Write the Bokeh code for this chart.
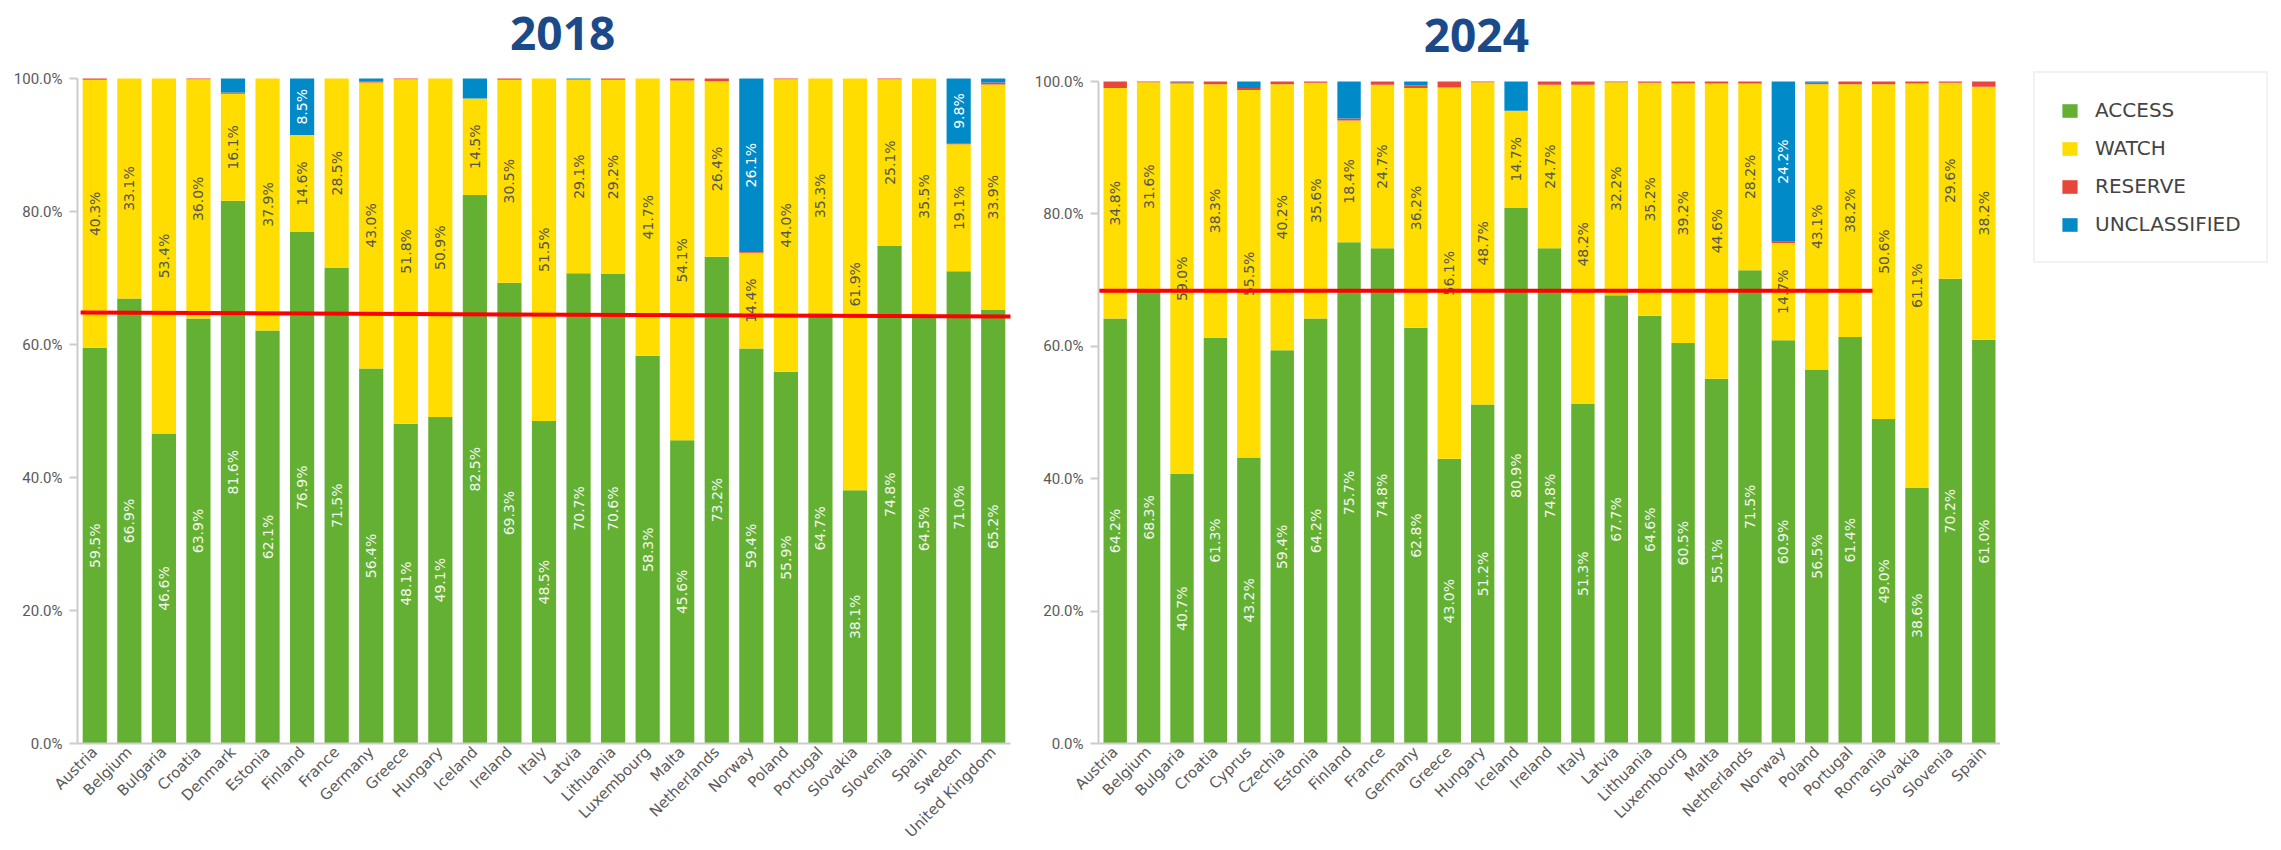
import math
from bokeh.plotting import figure
from bokeh.models import (ColumnDataSource, FactorRange, Range1d, FixedTicker,
                          PrintfTickFormatter, Label, Legend, LegendItem)
from bokeh.layouts import row
from bokeh.embed import file_html
from bokeh.resources import INLINE
from bokeh.core.properties import value

# ---------------- data ----------------
countries_2018 = ["Austria", "Belgium", "Bulgaria", "Croatia", "Denmark", "Estonia", "Finland",
                  "France", "Germany", "Greece", "Hungary", "Iceland", "Ireland", "Italy", "Latvia",
                  "Lithuania", "Luxembourg", "Malta", "Netherlands", "Norway", "Poland", "Portugal",
                  "Slovakia", "Slovenia", "Spain", "Sweden", "United Kingdom"]
access_2018 = [59.5, 66.9, 46.6, 63.9, 81.6, 62.1, 76.9, 71.5, 56.4, 48.1, 49.1, 82.5, 69.3, 48.5,
               70.7, 70.6, 58.3, 45.6, 73.2, 59.4, 55.9, 64.7, 38.1, 74.8, 64.5, 71.0, 65.2]
watch_2018 = [40.3, 33.1, 53.4, 36.0, 16.1, 37.9, 14.6, 28.5, 43.0, 51.8, 50.9, 14.5, 30.5, 51.5,
              29.1, 29.2, 41.7, 54.1, 26.4, 14.4, 44.0, 35.3, 61.9, 25.1, 35.5, 19.1, 33.9]
reserve_2018 = [0.2, 0.0, 0.0, 0.1, 0.2, 0.0, 0.0, 0.0, 0.2, 0.1, 0.0, 0.0, 0.2, 0.0,
                0.1, 0.2, 0.0, 0.3, 0.4, 0.1, 0.1, 0.0, 0.0, 0.1, 0.0, 0.1, 0.3]
unclassified_2018 = [0.0, 0.0, 0.0, 0.0, 2.1, 0.0, 8.5, 0.0, 0.4, 0.0, 0.0, 3.0, 0.0, 0.0,
                     0.1, 0.0, 0.0, 0.0, 0.0, 26.1, 0.0, 0.0, 0.0, 0.0, 0.0, 9.8, 0.6]

countries_2024 = ["Austria", "Belgium", "Bulgaria", "Croatia", "Cyprus", "Czechia", "Estonia",
                  "Finland", "France", "Germany", "Greece", "Hungary", "Iceland", "Ireland", "Italy",
                  "Latvia", "Lithuania", "Luxembourg", "Malta", "Netherlands", "Norway", "Poland",
                  "Portugal", "Romania", "Slovakia", "Slovenia", "Spain"]
access_2024 = [64.2, 68.3, 40.7, 61.3, 43.2, 59.4, 64.2, 75.7, 74.8, 62.8, 43.0, 51.2, 80.9, 74.8,
               51.3, 67.7, 64.6, 60.5, 55.1, 71.5, 60.9, 56.5, 61.4, 49.0, 38.6, 70.2, 61.0]
watch_2024 = [34.8, 31.6, 59.0, 38.3, 55.5, 40.2, 35.6, 18.4, 24.7, 36.2, 56.1, 48.7, 14.7, 24.7,
              48.2, 32.2, 35.2, 39.2, 44.6, 28.2, 14.7, 43.1, 38.2, 50.6, 61.1, 29.6, 38.2]
reserve_2024 = [1.0, 0.1, 0.2, 0.4, 0.3, 0.4, 0.2, 0.3, 0.5, 0.4, 0.9, 0.1, 0.0, 0.5,
                0.5, 0.1, 0.2, 0.3, 0.3, 0.3, 0.2, 0.2, 0.4, 0.4, 0.3, 0.2, 0.8]
unclassified_2024 = [0.0, 0.0, 0.1, 0.0, 1.0, 0.0, 0.0, 5.6, 0.0, 0.6, 0.0, 0.0, 4.4, 0.0,
                     0.0, 0.0, 0.0, 0.0, 0.0, 0.0, 24.2, 0.2, 0.0, 0.0, 0.0, 0.0, 0.0]

series_names = ["ACCESS", "WATCH", "RESERVE", "UNCLASSIFIED"]
series_colors = ["#64B032", "#FFDD00", "#E8463A", "#008AC8"]
label_colors = ["#F2F7EE", "#555555", "#FFFFFF", "#FFFFFF"]

y_ticks = [0, 20, 40, 60, 80, 100]
target_2018 = [64.8, 64.2]   # red reference line (start, end)
target_2024 = [68.4, 68.4]

TITLE_COLOR = "#1A4A8A"
AXIS_COLOR = "#CCCCCC"
TICK_TEXT = "#5A5A5A"
H = 850
B_BOTTOM = 107


def make_chart(countries, values, title, width, b_left, b_right, y_top,
               title_x, title_y, target, line_x):
    p = figure(x_range=FactorRange(*countries, range_padding=0), y_range=Range1d(0, y_top),
               width=width, height=H,
               min_border_left=b_left, min_border_top=0, min_border_right=b_right,
               min_border_bottom=B_BOTTOM, output_backend="svg", toolbar_location=None, tools="")
    data = {"x": countries}
    for n, v in zip(series_names, values):
        data[n] = v
    src = ColumnDataSource(data)
    rs = p.vbar_stack(series_names, x="x", width=0.7, color=series_colors,
                      line_color=None, source=src)

    lx, ly, lt, lc = [], [], [], []
    for i, c in enumerate(countries):
        bottom = 0.0
        for k in range(4):
            v = values[k][i]
            if v >= 8:
                lx.append(c)
                ly.append(bottom + v / 2)
                lt.append(f"{v:.1f}%")
                lc.append(label_colors[k])
            bottom += v
    lsrc = ColumnDataSource(dict(x=lx, y=ly, text=lt, color=lc))
    p.text(x="x", y="y", text="text", angle=math.pi / 2, text_align="center",
           text_baseline="middle", text_color="color", text_font=value("DejaVu Sans"),
           text_font_size=value("14px"), source=lsrc)

    p.segment(x0=[line_x[0]], y0=[target[0]], x1=[line_x[1]], y1=[target[1]],
              line_color="#FF0000", line_width=4)

    p.add_layout(Label(x=title_x, y=title_y, text=title, text_align="center",
                       text_baseline="alphabetic", text_font="Open Sans",
                       text_font_size="46px", text_font_style="bold", text_color=TITLE_COLOR))

    p.xgrid.visible = False
    p.ygrid.visible = False
    p.outline_line_color = None
    p.background_fill_color = "white"
    p.border_fill_color = "white"

    p.yaxis.bounds = (0, 100)
    p.yaxis.ticker = FixedTicker(ticks=y_ticks)
    p.yaxis.formatter = PrintfTickFormatter(format="%.1f%%")
    p.yaxis.axis_line_color = AXIS_COLOR
    p.yaxis.axis_line_width = 2
    p.yaxis.major_tick_line_color = AXIS_COLOR
    p.yaxis.major_tick_line_width = 2
    p.yaxis.major_tick_out = 8
    p.yaxis.major_tick_in = 0
    p.yaxis.minor_tick_line_color = None
    p.yaxis.major_label_standoff = 7
    p.yaxis.major_label_text_font = "Roboto"
    p.yaxis.major_label_text_font_size = "15px"
    p.yaxis.major_label_text_color = TICK_TEXT

    p.xaxis.major_label_orientation = math.pi / 4
    p.xaxis.axis_line_color = AXIS_COLOR
    p.xaxis.axis_line_width = 2
    p.xaxis.major_tick_line_color = None
    p.xaxis.major_tick_out = 0
    p.xaxis.major_tick_in = 0
    p.xaxis.major_label_standoff = 6
    p.xaxis.major_label_text_font = "DejaVu Sans"
    p.xaxis.major_label_text_font_size = "15px"
    p.xaxis.major_label_text_color = TICK_TEXT
    return p, rs


p1, rs1 = make_chart(countries_2018,
                     [access_2018, watch_2018, reserve_2018, unclassified_2018],
                     "2018", 1030, 77, 20, 743 / 6.65, 14.04, 106.7, target_2018, [0.09, 27.35])
p2, rs2 = make_chart(countries_2024,
                     [access_2024, watch_2024, reserve_2024, unclassified_2024],
                     "2024", 970, 68, 0, 743 / 6.62, 11.31, 107.0, target_2024, [0.0, 23.17])

# legend panel (same top/bottom borders as the charts so frames line up)
p3 = figure(width=273, height=H, x_range=Range1d(0, 1), y_range=Range1d(0, 1),
            x_axis_type=None, y_axis_type=None, min_border_left=0, min_border_top=0,
            min_border_right=0, min_border_bottom=B_BOTTOM, output_backend="svg",
            toolbar_location=None, tools="")
p3.outline_line_color = None
p3.background_fill_color = "white"
p3.border_fill_color = "white"
p3.xgrid.visible = False
p3.ygrid.visible = False
swatches = [p3.vbar(x=[0.5], top=[0.0], width=0.01, color=c, line_color=None)
            for c in series_colors]
legend = Legend(items=[LegendItem(label=n, renderers=[r]) for n, r in zip(series_names, swatches)],
                location=(33, 480))
legend.label_text_font = "DejaVu Sans"
legend.label_text_font_size = "20px"
legend.label_text_color = "#444444"
legend.glyph_width = 19
legend.glyph_height = 17
legend.label_standoff = 16
legend.label_height = 24
legend.spacing = 14
legend.padding = 25
legend.margin = 0
legend.border_line_color = "#E6E6E6"
legend.border_line_width = 2
legend.background_fill_color = "white"
legend.background_fill_alpha = 1.0
p3.add_layout(legend)

layout = row(p1, p2, p3)
open("out.html", "w").write(file_html(layout, INLINE))
